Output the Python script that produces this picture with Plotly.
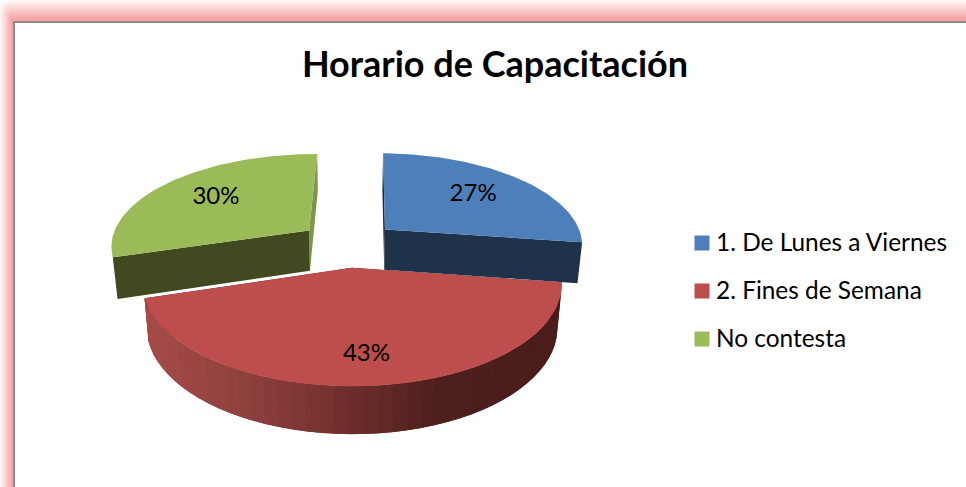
import math
import plotly.graph_objects as go

# ---- data ----
categories = ["1. De Lunes a Viernes", "2. Fines de Semana", "No contesta"]
values = [27, 43, 30]
top_colors = ["#4D80BB", "#BD4E4B", "#9BBB59"]
front_wall_colors = ["#1E3349", "#4A1C1A", "#40491F"]
back_wall_colors = ["#1B2D44", "#4A1C1A", "#7A9646"]
title_text = "Horario de Capacitación"
label_radius = [0.65, 0.77, 0.65]
legend_y = [243, 291, 339]

# ---- pseudo-3D pie geometry, pixel-based axes ----
W, H = 966, 487
CX, CY, A, B, K = 348, 244, 199, 92, 0.154
EXPLODE, DEPTH, SHRINK, ROT = 0.25, 41, 0.98, 1.0


def project(X, Y, low=False):
    w = 1 + K * Y
    px, py = CX + A * X / w, CY - B * Y / w
    if low:
        px = CX + (px - CX) * SHRINK
        py = CY + (py - CY) * SHRINK + DEPTH / w
    return px, py


def hex_rgb(c):
    return tuple(int(c[i:i + 2], 16) for i in (1, 3, 5))


def grad(x, stops):
    if x <= stops[0][0]:
        return stops[0][1]
    for (x0, c0), (x1, c1) in zip(stops, stops[1:]):
        if x <= x1:
            t = (x - x0) / (x1 - x0)
            a, b = hex_rgb(c0), hex_rgb(c1)
            return "rgb(%d,%d,%d)" % tuple(a[i] + (b[i] - a[i]) * t for i in range(3))
    return stops[-1][1]


def poly(pts, color):
    xs = [p[0] for p in pts] + [pts[0][0]]
    ys = [p[1] for p in pts] + [pts[0][1]]
    return go.Scatter(x=xs, y=ys, mode="lines", fill="toself", fillcolor=color,
                      line=dict(color=color, width=0), hoverinfo="skip", showlegend=False)


total = sum(values)
slices = []
acc = ROT
for i, v in enumerate(values):
    span = v / total * 360
    slices.append(dict(i=i, start=acc, end=acc + span, mid=acc + span / 2))
    acc += span


def apex(s):
    m = math.radians(s["mid"])
    return EXPLODE * math.sin(m), EXPLODE * math.cos(m)


def rim(s, deg):
    ax, ay = apex(s)
    r = math.radians(deg)
    return ax + math.sin(r), ay + math.cos(r)


def arc(s, n=90):
    return [rim(s, s["start"] + (s["end"] - s["start"]) * j / n) for j in range(n + 1)]


red_stops = [(146, "#A54C49"), (250, "#8C3F3C"), (355, "#6A2C2A"), (430, "#4E201E"), (561, "#4A1C1A")]

fig = go.Figure()
for idx in (2, 0, 1):
    s = slices[idx]
    ax, ay = apex(s)
    pts = arc(s)
    # flat cut walls: the one nearer the viewer gets the dark colour
    first_is_front = pts[0][1] < pts[-1][1]
    front, back = (pts[0], pts[-1]) if first_is_front else (pts[-1], pts[0])
    for e, col in ((back, back_wall_colors[idx]), (front, front_wall_colors[idx])):
        fig.add_trace(poly([project(ax, ay), project(*e), project(*e, low=True), project(ax, ay, low=True)], col))
    # curved outer wall (only the big front slice shows it), banded gradient
    if idx == 1:
        band = pts[::2]
        for j in range(len(band) - 1):
            q = band[min(j + 2, len(band) - 1)]
            col = grad(project(*band[j + 1])[0], red_stops)
            seg = [band[j], band[j + 1], q]
            fig.add_trace(poly([project(*a) for a in seg] + [project(*a, low=True) for a in seg[::-1]], col))
    # top face
    fig.add_trace(poly([project(ax, ay)] + [project(*p) for p in pts], top_colors[idx]))

# percentage labels
lx, ly, lt = [], [], []
for s in slices:
    ax, ay = apex(s)
    m = math.radians(s["mid"])
    r = label_radius[s["i"]]
    px, py = project(ax + r * math.sin(m), ay + r * math.cos(m))
    lx.append(px)
    ly.append(py)
    lt.append("%d%%" % round(values[s["i"]] / total * 100))
fig.add_trace(go.Scatter(x=lx, y=ly, text=lt, mode="text", showlegend=False, hoverinfo="skip",
                         textposition="middle center",
                         textfont=dict(family="Lato", size=24, color="#000000")))

# legend, drawn beside the plot
for name, col, y in zip(categories, top_colors, legend_y):
    fig.add_trace(go.Scatter(x=[702], y=[y], mode="markers", name=name, showlegend=False, hoverinfo="skip",
                             marker=dict(symbol="square", size=15, color=col, line=dict(width=0))))
    fig.add_trace(go.Scatter(x=[716], y=[y + 2], mode="text", text=[name], showlegend=False, hoverinfo="skip",
                             textposition="middle right",
                             textfont=dict(family="Lato", size=24.4, color="#000000")))

# frame: soft pink glow + gray rule + white panel
shapes = []
steps = 14
c0, c1 = hex_rgb("#FFF6F6"), hex_rgb("#F8A4A4")
for j in range(steps + 1):
    t = j / steps
    x0, y0 = 13 * t, 21 * t
    col = "rgb(%d,%d,%d)" % tuple(c0[k] + (c1[k] - c0[k]) * min(1, t * 1.15) for k in range(3))
    r = 10 * (1 - t) + 1
    shapes.append(dict(type="path", xref="x", yref="y", layer="below", line=dict(width=0), fillcolor=col,
                       path=f"M {x0} {H} L {x0} {y0 + r} Q {x0} {y0} {x0 + r} {y0} L {W} {y0} L {W} {H} Z"))
shapes.append(dict(type="rect", xref="x", yref="y", x0=13, y0=21, x1=W, y1=H, layer="below",
                   line=dict(width=0), fillcolor="#8C8C8C"))
shapes.append(dict(type="rect", xref="x", yref="y", x0=15, y0=23, x1=W, y1=H, layer="below",
                   line=dict(width=0), fillcolor="#FFFFFF"))

fig.update_layout(
    width=W, height=H, margin=dict(l=0, r=0, t=0, b=0),
    paper_bgcolor="#FFFFFF", plot_bgcolor="rgba(0,0,0,0)",
    xaxis=dict(range=[0, W], visible=False, fixedrange=True),
    yaxis=dict(range=[H, 0], visible=False, fixedrange=True),
    shapes=shapes,
    showlegend=False,
    hovermode=False,
    title=dict(text=title_text, x=495 / W, xanchor="center", y=1 - 64 / H, yanchor="middle",
               font=dict(family="Lato", size=36, weight=700, color="#000000")),
)
fig.write_html("out.html", config=dict(displayModeBar=False),
               post_script="document.body.style.margin='0';document.documentElement.style.overflow='hidden';")
